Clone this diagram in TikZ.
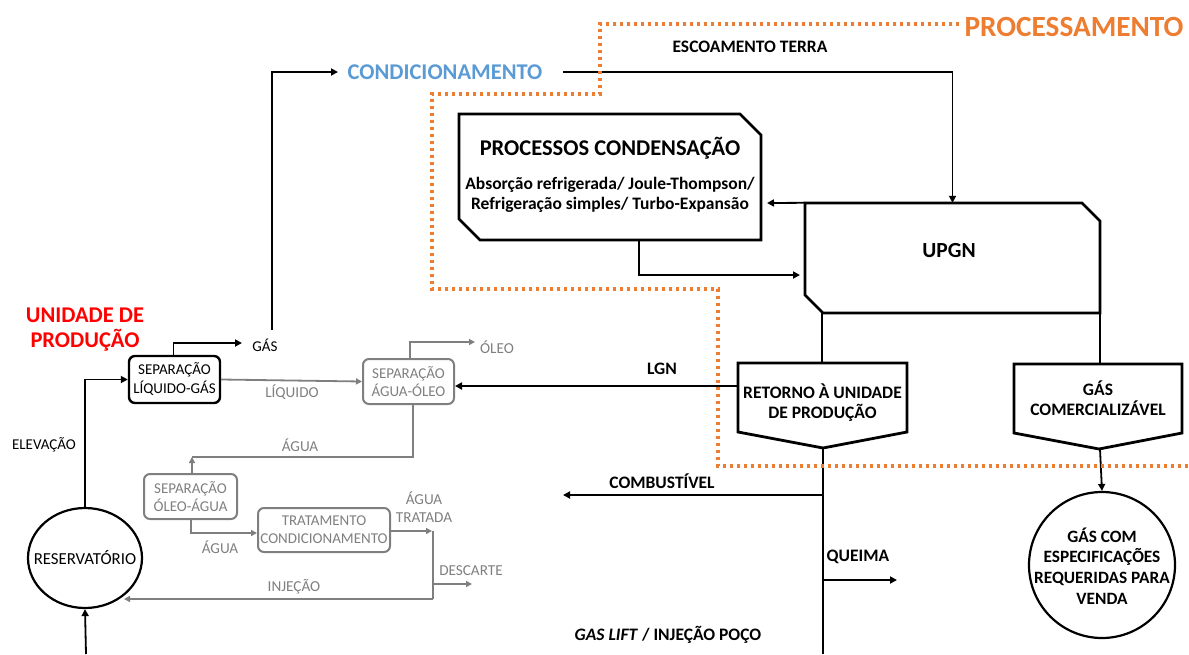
\documentclass[tikz,border=0pt]{standalone}
\usepackage{fontspec}
\setmainfont{Carlito}
\usetikzlibrary{arrows.meta,calc,shapes.geometric}
\definecolor{orng}{HTML}{ED7D31}
\definecolor{blu}{HTML}{5B9BD5}
\definecolor{gr}{HTML}{7F7F7F}
\definecolor{redc}{HTML}{FF0000}
\begin{document}
\begin{tikzpicture}[x=1pt,y=-1pt,
 arr/.style={line width=1.8pt,-{Triangle[length=7pt,width=7pt]}},
 ln/.style={line width=1.8pt},
 garr/.style={draw=gr,line width=1.8pt,-{Triangle[length=6pt,width=6pt]}},
 gln/.style={draw=gr,line width=1.8pt},
 bl/.style={font=\fontsize{17.5}{20}\selectfont\bfseries,align=center,inner sep=0pt},
 gl/.style={text=gr,font=\fontsize{15.2}{18}\selectfont,align=center,inner sep=0pt},
 frame/.style={draw=none,inner sep=0pt,minimum width=#1},
 gbox/.style={draw=gr,text=gr,rounded corners=6pt,line width=2pt,inner sep=0pt,align=center,font=\fontsize{15}{18}\selectfont},
 outline/.style={line width=2.8pt,line join=miter},
 dotline/.style={draw=orng,line width=3.5pt,dash pattern=on 3.5pt off 3.5pt}
]
\useasboundingbox (0,0) rectangle (1189,654);

% ---------- titles ----------
\node[font=\fontsize{29.3}{32}\selectfont\bfseries,text=orng,inner sep=0pt] (proc) at (1074,27) {PROCESSAMENTO};
\node[font=\fontsize{22.5}{24}\selectfont\bfseries,text=blu,inner sep=0pt] (condtxt) at (445,72) {CONDICIONAMENTO};
\node[font=\fontsize{22.5}{25}\selectfont\bfseries,text=redc,align=center,inner sep=0pt] (unid) at (85,330) {UNIDADE DE\\PRODUÇÃO};

% ---------- condensation box ----------
\node[frame=302pt,minimum height=126pt] (cbox) at (610,177) {};
\draw[outline] (459,114) -- (740,114) -- (761,135) -- (761,240) -- (480,240) -- (459,219) -- cycle;
\node[font=\fontsize{22.5}{24}\selectfont\bfseries,inner sep=0pt] (ctitle) at (610,148) {PROCESSOS CONDENSAÇÃO};
\node[bl] (csub) at (610,195) {Absorção refrigerada/ Joule-Thompson/\\Refrigeração simples/ Turbo-Expansão};

% ---------- UPGN ----------
\node[frame=295pt,minimum height=110pt] (upgn) at (952.5,258) {};
\draw[outline] (805,203) -- (1082,203) -- (1100,221) -- (1100,313) -- (823,313) -- (805,295) -- cycle;
\node[font=\fontsize{21.5}{24}\selectfont\bfseries,inner sep=0pt] (upgntxt) at (949,251) {UPGN};

% ---------- pentagons ----------
\node[frame=169pt,minimum height=85pt] (ret) at (822.5,405.5) {};
\draw[outline] (738,363) -- (907,363) -- (907,432) -- (823,448) -- (738,432) -- cycle;
\node[bl] (rettxt) at (822.5,403) {RETORNO À UNIDADE\\DE PRODUÇÃO};

\node[frame=168pt,minimum height=85pt] (gcom) at (1098,406.5) {};
\draw[outline] (1014,364) -- (1182,364) -- (1182,433) -- (1099,449) -- (1014,433) -- cycle;
\node[bl] (gcomtxt) at (1098,398) {GÁS\\COMERCIALIZÁVEL};

% ---------- circles ----------
\node[draw,circle,line width=2.2pt,minimum size=146pt,inner sep=0pt] (venda) at (1102,565) {};
\node[font=\fontsize{17.3}{20.7}\selectfont\bfseries,align=center,inner sep=0pt] (vendatxt) at (1102,566) {GÁS COM\\ESPECIFICAÇÕES\\REQUERIDAS PARA\\VENDA};
\node[draw,ellipse,line width=2.2pt,minimum width=114pt,minimum height=100pt,inner sep=0pt] (res) at (85,558) {};
\node[font=\fontsize{16.8}{18}\selectfont,inner sep=0pt] (restxt) at (85,558) {RESERVATÓRIO};

% ---------- production boxes ----------
\node[draw,rounded corners=6pt,line width=2.4pt,inner sep=0pt,minimum width=91pt,minimum height=47pt,align=center,font=\fontsize{15}{19}\selectfont] (seplg) at (174.5,379.5) {SEPARAÇÃO\\LÍQUIDO-GÁS};
\node[gbox,minimum width=91pt,minimum height=45pt] (sepao) at (408.5,381.5) {SEPARAÇÃO\\ÁGUA-ÓLEO};
\node[gbox,minimum width=93pt,minimum height=45pt] (sepoa) at (190.5,496.5) {SEPARAÇÃO\\ÓLEO-ÁGUA};
\node[gbox,minimum width=132pt,minimum height=44pt] (trat) at (324,530) {TRATAMENTO\\CONDICIONAMENTO};

% ---------- labels ----------
\node[bl] (escoa) at (750,47) {ESCOAMENTO TERRA};
\node[bl] (lgn) at (662,369) {LGN};
\node[bl] (comb) at (662,481) {COMBUSTÍVEL};
\node[bl] (queima) at (858,557) {QUEIMA};
\node[bl] (glift) at (668,635) {\textit{GAS LIFT} / INJEÇÃO POÇO};
\node[font=\fontsize{15}{18}\selectfont,inner sep=0pt] (gas) at (265,345) {GÁS};
\node[font=\fontsize{15}{18}\selectfont,inner sep=0pt] (elev) at (44,445) {ELEVAÇÃO};
\node[gl] (liq) at (292,392) {LÍQUIDO};
\node[gl] (oleo) at (497,347) {ÓLEO};
\node[gl] (agua1) at (300,445) {ÁGUA};
\node[gl] (agua2) at (220,547) {ÁGUA};
\node[gl] (aguat) at (424,507.5) {ÁGUA\\TRATADA};
\node[gl] (desc) at (471,571) {DESCARTE};
\node[gl] (inj) at (294,587) {INJEÇÃO};

% ---------- coordinates ----------
\coordinate (bot) at (86,654);
\coordinate (g1) at (272,330);
\coordinate (gtip) at (242,343);
\coordinate (ctip) at (338,72);
\coordinate (cstart) at (563,72);
\coordinate (cb1) at (639,240);
\coordinate (up1) at (800,275);
\coordinate (cbtip) at (767,203);
\coordinate (us1) at (822,313);
\coordinate (rp) at (823,448);
\coordinate (rbot) at (823,654);
\coordinate (c1) at (823,495);
\coordinate (ctip2) at (563,495);
\coordinate (q1) at (823,580);
\coordinate (qtip) at (897,580);
\coordinate (l1) at (738,386);
\coordinate (gp) at (1100,449);
\coordinate (otip) at (475,342);
\coordinate (w1) at (192,457);
\coordinate (t1) at (433,531);
\coordinate (t2) at (433,599);
\coordinate (ttip) at (432,531);
\coordinate (d1) at (433,584);
\coordinate (dtip) at (472,584);
\coordinate (injtip) at (124,599);

% ---------- black connectors ----------
\draw[arr] (bot) -- (res.south);
\draw[arr] (res.north) |- (seplg.west);
\draw[arr] ($(seplg.north)+(-1,0)$) |- (gtip);
\draw[arr] (g1) |- (ctip);
\draw[arr] (cstart) -| (upgn.north);
\draw[arr] (upgn.north west) -- (cbtip);
\draw[arr] (cb1) |- (up1);
\draw[ln] (us1) -- (us1 |- ret.north);
\draw[ln] (upgn.south east) -- (upgn.south east |- gcom.north);
\draw[arr] (l1) -- (sepao.east |- l1);
\draw[ln] (rp) -- (rbot);
\draw[arr] (c1) -- (ctip2);
\draw[arr] (q1) -- (qtip);
\draw[arr] (gp) -- (venda.north);

% ---------- gray connectors ----------
\draw[garr] (seplg.east) -- (sepao.west);
\draw[garr] ($(sepao.north)+(1.5,0)$) |- (otip);
\draw[gln] ($(sepao.south)+(4.5,0)$) |- (w1);
\draw[garr] ($(sepoa.north)+(1.5,0)$) -- (w1);
\draw[garr] ($(sepoa.south)+(0.5,0)$) |- ($(trat.west)+(0,3)$);
\draw[garr] ($(trat.east)+(0,1)$) -- (ttip);
\draw[gln] (t1) -- (t2);
\draw[garr] (t2) -- (injtip);
\draw[garr] (d1) -- (dtip);

% ---------- orange boundary ----------
\draw[dotline] (proc.west) ++(-5,-3) -- (600,24) -- (600,94) -- (432,94) -- (432,289) -- (718,289) -- (718,466) -- (1189,466);
\end{tikzpicture}
\end{document}
